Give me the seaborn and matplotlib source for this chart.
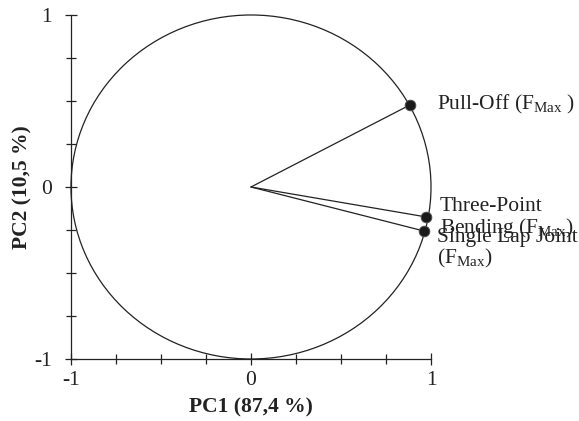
import numpy as np
import pandas as pd
import matplotlib
matplotlib.use("Agg")
import matplotlib.pyplot as plt
from matplotlib.patches import Circle
import seaborn as sns

# PCA loadings of the mechanical tests on the first two components
variables = ["Pull-Off", "Three-Point Bending", "Single Lap Joint"]
pc1 = [0.883, 0.972, 0.961]
pc2 = [0.477, -0.174, -0.256]
labels = ["Pull-Off (F$_{\\mathrm{Max}}$ )",
          "Three-Point\nBending (F$_{\\mathrm{Max}}$)",
          "Single Lap Joint\n(F$_{\\mathrm{Max}}$)"]
label_offsets = [(0.15, 0.0), (0.078, -0.01), (0.072, -0.105)]
x_label = "PC1 (87,4 %)"
y_label = "PC2 (10,5 %)"

df = pd.DataFrame({"variable": variables, "PC1": pc1, "PC2": pc2})

sns.set_style("white")
plt.rcParams["font.family"] = ["Liberation Serif", "DejaVu Serif"]
plt.rcParams["mathtext.fontset"] = "custom"
plt.rcParams["mathtext.rm"] = "Liberation Serif"

FS = 15.5
INK = "#222222"

fig = plt.figure(figsize=(5.79, 4.21), dpi=100)
ax = fig.add_axes([0.1226, 0.1473, 0.6218, 0.8171])

# correlation circle
ax.add_patch(Circle((0, 0), 1.0, fill=False, edgecolor=INK, linewidth=0.9,
                    clip_on=False))

# loading vectors from the origin
for _, row in df.iterrows():
    ax.plot([0, row["PC1"]], [0, row["PC2"]], color=INK, linewidth=0.9)

sns.scatterplot(data=df, x="PC1", y="PC2", ax=ax, color="#1a1a1a", s=60,
                edgecolor="#555555", linewidth=0.6, zorder=5, legend=False,
                clip_on=False)

for (px, py, lab, (dx, dy)) in zip(pc1, pc2, labels, label_offsets):
    ax.text(px + dx, py + dy, lab, fontsize=FS, color=INK,
            ha="left", va="center", linespacing=1.0)

ax.set_xlim(-1, 1)
ax.set_ylim(-1, 1)
ax.set_xticks([-1, 0, 1])
ax.set_yticks([-1, 0, 1])
ax.set_xticklabels(["-1", "0", "1"])
ax.set_yticklabels(["-1", "0", "1"])
ax.set_xticks(np.arange(-1, 1.01, 0.25), minor=True)
ax.set_yticks(np.arange(-1, 1.01, 0.25), minor=True)
ax.tick_params(which="both", direction="inout", length=8, width=0.9,
               color=INK, labelsize=FS, labelcolor=INK,
               left=True, bottom=True)
ax.tick_params(which="minor", length=7)
ax.tick_params(axis="x", which="major", pad=5)
ax.tick_params(axis="y", which="major", pad=10)

for side in ["top", "right"]:
    ax.spines[side].set_visible(False)
for side in ["left", "bottom"]:
    ax.spines[side].set_color(INK)
    ax.spines[side].set_linewidth(0.9)

ax.set_xlabel(x_label, fontsize=FS, fontweight="bold", color=INK, labelpad=5)
ax.set_ylabel(y_label, fontsize=FS, fontweight="bold", color=INK, labelpad=1)

fig.savefig("out.png", dpi=100, facecolor="white")
